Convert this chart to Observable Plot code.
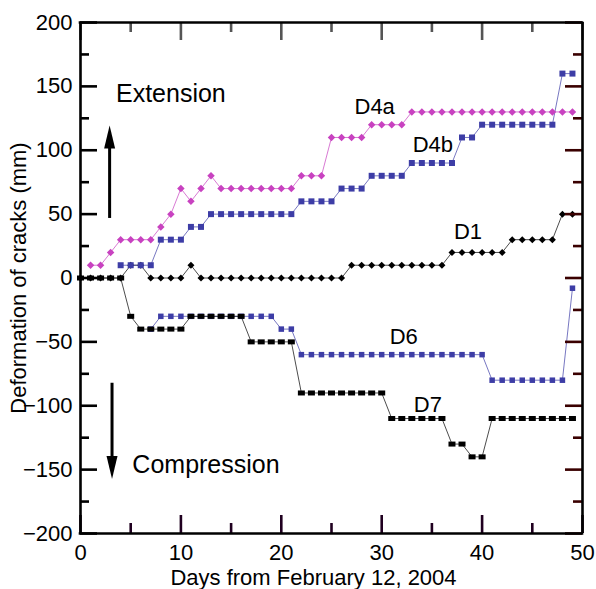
<!DOCTYPE html>
<html><head><meta charset="utf-8">
<script src="https://cdn.jsdelivr.net/npm/d3@7"></script>
<script src="https://cdn.jsdelivr.net/npm/@observablehq/plot@0.6"></script>
<style>body{margin:0;background:#fff;overflow:hidden}</style>
</head><body><div id="chart"></div>
<script>
// Days from February 12, 2004
const days = [0,1,2,3,4,5,6,7,8,9,10,11,12,13,14,15,16,17,18,19,20,21,22,23,24,25,26,27,28,29,30,31,32,33,34,35,36,37,38,39,40,41,42,43,44,45,46,47,48,49];
// Deformation (mm) per crack, null = no reading
const d4a = [null,10,10,20,30,30,30,30,40,50,70,60,70,80,70,70,70,70,70,70,70,70,80,80,80,110,110,110,110,120,120,120,120,130,130,130,130,130,130,130,130,130,130,130,130,130,130,130,130,130];
const d4b = [null,null,null,null,10,10,10,10,30,30,30,40,40,50,50,50,50,50,50,50,50,50,60,60,60,60,70,70,70,80,80,80,80,90,90,90,90,90,110,110,120,120,120,120,120,120,120,120,160,160];
const d1  = [0,0,0,0,0,10,10,0,0,0,0,10,0,0,0,0,0,0,0,0,0,0,0,0,0,0,0,10,10,10,10,10,10,10,10,10,10,20,20,20,20,20,20,30,30,30,30,30,50,50];
const d6  = [null,null,null,null,null,null,null,-40,-30,-30,-30,-30,-30,-30,-30,-30,-30,-30,-30,-30,-40,-40,-60,-60,-60,-60,-60,-60,-60,-60,-60,-60,-60,-60,-60,-60,-60,-60,-60,-60,-60,-80,-80,-80,-80,-80,-80,-80,-80,-8];
const d7  = [0,0,0,0,0,-30,-40,-40,-40,-40,-40,-30,-30,-30,-30,-30,-30,-50,-50,-50,-50,-50,-90,-90,-90,-90,-90,-90,-90,-90,-90,-110,-110,-110,-110,-110,-110,-130,-130,-140,-140,-110,-110,-110,-110,-110,-110,-110,-110,-110];

const xMajor = [0,10,20,30,40,50];
const xMinor = [5,15,25,35,45];
const yMajor = [-200,-150,-100,-50,0,50,100,150,200];
const yMinor = [-175,-125,-75,-25,25,75,125,175];

const seriesLabels = ["D4a","D4b","D1","D6","D7"];
const seriesLabelX = [29.3,35.1,38.6,32.2,34.6];
const seriesLabelY = [134,104,36,-46,-99];

const noteText = ["Extension","Compression"];
const noteX = [9.0,12.5];
const noteY = [144,-146];

const arrowX = [2.9,3.14];
const arrowFrom = [47,-82];
const arrowTo = [104,-140];
const arrowHead = [110,-148];
const arrowDir = [1,-1];

const magenta = "#c842c0", blue = "#3d3da6", black = "#000";

const W = 596, H = 589, ML = 80, MR = 14, MT = 22, MB = 56;
const FW = W - ML - MR, FH = H - MT - MB;

const rows = vals => days.map((d,i)=>({day:d, value:vals[i]})).filter(r=>r.value!=null);
const rectSym = (w,h)=>({draw(c){c.rect(-w/2,-h/2,w,h);}});
const diamSym = w=>({draw(c){const r=w/2;c.moveTo(0,-r);c.lineTo(r,0);c.lineTo(0,r);c.lineTo(-r,0);c.closePath();}});
const triUp = {draw(c){c.moveTo(0,-12);c.lineTo(5.5,11);c.lineTo(-5.5,11);c.closePath();}};
const triDown = {draw(c){c.moveTo(0,12);c.lineTo(5.5,-11);c.lineTo(-5.5,-11);c.closePath();}};

const series = [
  {v:d6, color:blue, sym:rectSym(5.5,5.5)},
  {v:d7, color:black, sym:rectSym(7,5)},
  {v:d1, color:black, sym:diamSym(7)},
  {v:d4b, color:blue, sym:rectSym(6,6)},
  {v:d4a, color:magenta, sym:diamSym(7.5)}
];

const marks = [];
for (const s of series) {
  const r = rows(s.v);
  marks.push(Plot.line(r, {x:"day", y:"value", stroke:s.color, strokeWidth:1, strokeOpacity:0.7}));
  marks.push(Plot.dot(r, {x:"day", y:"value", symbol:s.sym, fill:s.color, stroke:"none"}));
}

// inward ticks on all four sides and a heavy frame
const sw = 2.6;
const tickMarks = [
  Plot.tickY(yMajor, {y:d=>d, insetRight:FW-17, stroke:"#000", strokeWidth:sw}),
  Plot.tickY(yMinor, {y:d=>d, insetRight:FW-9, stroke:"#000", strokeWidth:sw}),
  Plot.tickY(yMajor, {y:d=>d, insetLeft:FW-17, stroke:"#3a0000", strokeWidth:sw}),
  Plot.tickY(yMinor, {y:d=>d, insetLeft:FW-9, stroke:"#3a0000", strokeWidth:sw}),
  Plot.tickX(xMajor, {x:d=>d, insetTop:FH-18, stroke:"#200020", strokeWidth:sw}),
  Plot.tickX(xMinor, {x:d=>d, insetTop:FH-10, stroke:"#200020", strokeWidth:sw}),
  Plot.tickX(xMajor, {x:d=>d, insetBottom:FH-18, stroke:"#555", strokeWidth:sw}),
  Plot.tickX(xMinor, {x:d=>d, insetBottom:FH-10, stroke:"#555", strokeWidth:sw}),
  Plot.ruleX([0,50], {x:d=>d, stroke:"#000", strokeWidth:sw}),
  Plot.ruleY([-200,200], {y:d=>d, stroke:"#000", strokeWidth:sw, strokeLinecap:"square"})
];

const labelRows = seriesLabels.map((t,i)=>({t, x:seriesLabelX[i], y:seriesLabelY[i]}));
const noteRows = noteText.map((t,i)=>({t, x:noteX[i], y:noteY[i]}));
const arrowRows = arrowX.map((x,i)=>({x, y1:arrowFrom[i], y2:arrowTo[i], h:arrowHead[i], dir:arrowDir[i]}));

const chart = Plot.plot({
  width:W, height:H,
  marginLeft:ML, marginRight:MR, marginTop:MT, marginBottom:MB,
  x:{domain:[0,50]},
  y:{domain:[-200,200]},
  style:{fontFamily:"'Liberation Sans', Arial, sans-serif", fontSize:"22px", color:"#000", background:"#fff"},
  marks:[
    ...marks,
    Plot.link(arrowRows, {x1:"x", x2:"x", y1:"y1", y2:"y2", stroke:"#000", strokeWidth:3}),
    Plot.dot(arrowRows.filter(d=>d.dir>0), {x:"x", y:"h", symbol:triUp, fill:"#000", stroke:"none"}),
    Plot.dot(arrowRows.filter(d=>d.dir<0), {x:"x", y:"h", symbol:triDown, fill:"#000", stroke:"none"}),
    Plot.text(labelRows, {x:"x", y:"y", text:"t", fontSize:22, fill:"#000"}),
    Plot.text(noteRows, {x:"x", y:"y", text:"t", fontSize:25, fill:"#000"}),
    Plot.axisY({ticks:yMajor, tickSize:0, tickPadding:8, fontSize:22, label:null}),
    Plot.axisX({ticks:xMajor, tickSize:0, tickPadding:11, fontSize:22, label:null}),
    ...tickMarks,
    Plot.text(["Deformation of cracks (mm)"], {frameAnchor:"left", dx:-62, rotate:-90, textAnchor:"middle", lineAnchor:"middle", fontSize:22, fill:"#000"}),
    Plot.text(["Days from February 12, 2004"], {frameAnchor:"bottom", dx:-18, dy:44, textAnchor:"middle", lineAnchor:"middle", fontSize:22, fill:"#000"})
  ]
});
document.getElementById("chart").appendChild(chart);
</script>
</body></html>
